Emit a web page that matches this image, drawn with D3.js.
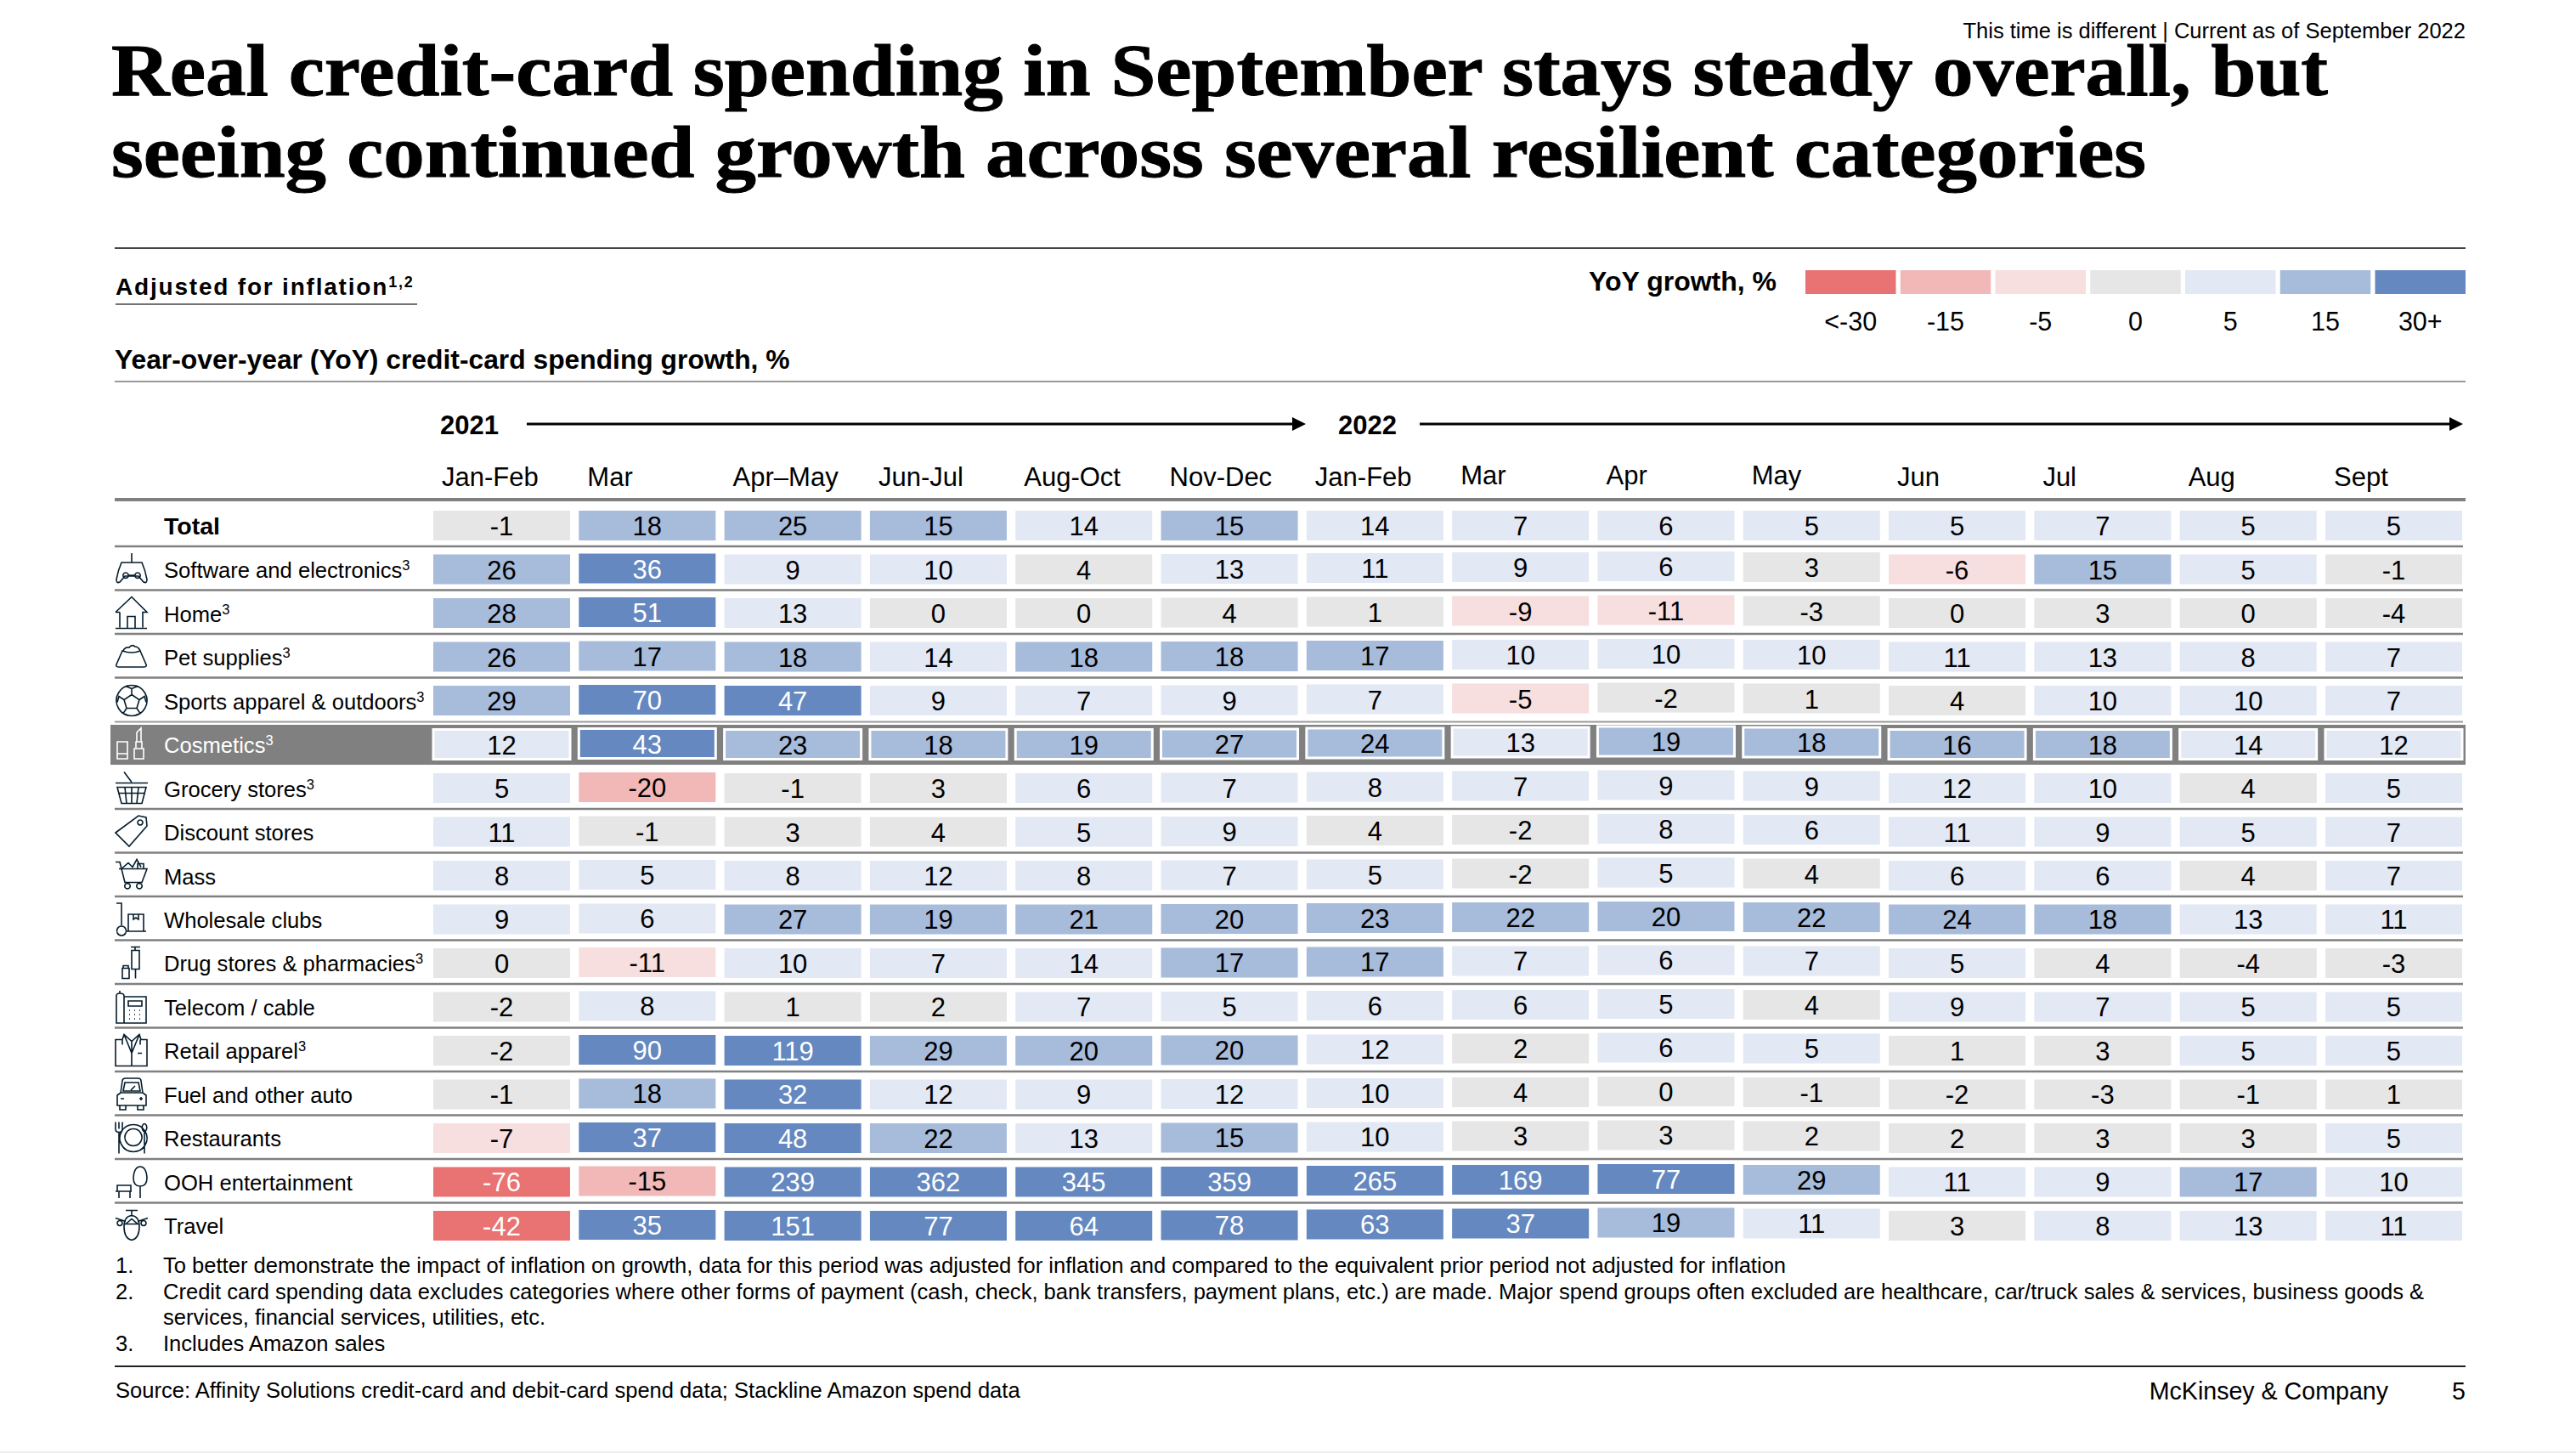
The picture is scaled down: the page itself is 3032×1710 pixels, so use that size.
<!DOCTYPE html>
<html><head><meta charset="utf-8">
<script src="https://cdnjs.cloudflare.com/ajax/libs/d3/7.8.5/d3.min.js"></script>
<style>
html,body{margin:0;padding:0;background:#fff;}
svg{display:block;}
text{font-family:"Liberation Sans",Arial,sans-serif;fill:#000;}
</style></head><body>
<script>
const periods=["Jan-Feb","Mar","Apr–May","Jun-Jul","Aug-Oct","Nov-Dec","Jan-Feb ","Mar ","Apr","May","Jun","Jul","Aug","Sept"];
const categories=["Total","Software and electronics","Home","Pet supplies","Sports apparel & outdoors","Cosmetics","Grocery stores","Discount stores","Mass","Wholesale clubs","Drug stores & pharmacies","Telecom / cable","Retail apparel","Fuel and other auto","Restaurants","OOH entertainment","Travel"];
const footnoted=["Software and electronics","Home","Pet supplies","Sports apparel & outdoors","Cosmetics","Grocery stores","Drug stores & pharmacies","Retail apparel"];
const total=[-1,18,25,15,14,15,14,7,6,5,5,7,5,5];
const software=[26,36,9,10,4,13,11,9,6,3,-6,15,5,-1];
const home=[28,51,13,0,0,4,1,-9,-11,-3,0,3,0,-4];
const pet=[26,17,18,14,18,18,17,10,10,10,11,13,8,7];
const sports=[29,70,47,9,7,9,7,-5,-2,1,4,10,10,7];
const cosmetics=[12,43,23,18,19,27,24,13,19,18,16,18,14,12];
const grocery=[5,-20,-1,3,6,7,8,7,9,9,12,10,4,5];
const discount=[11,-1,3,4,5,9,4,-2,8,6,11,9,5,7];
const mass=[8,5,8,12,8,7,5,-2,5,4,6,6,4,7];
const wholesale=[9,6,27,19,21,20,23,22,20,22,24,18,13,11];
const drug=[0,-11,10,7,14,17,17,7,6,7,5,4,-4,-3];
const telecom=[-2,8,1,2,7,5,6,6,5,4,9,7,5,5];
const retail=[-2,90,119,29,20,20,12,2,6,5,1,3,5,5];
const fuel=[-1,18,32,12,9,12,10,4,0,-1,-2,-3,-1,1];
const restaurants=[-7,37,48,22,13,15,10,3,3,2,2,3,3,5];
const ooh=[-76,-15,239,362,345,359,265,169,77,29,11,9,17,10];
const travel=[-42,35,151,77,64,78,63,37,19,11,3,8,13,11];
const series=[total,software,home,pet,sports,cosmetics,grocery,discount,mass,wholesale,drug,telecom,retail,fuel,restaurants,ooh,travel];
const legendLabels=["<-30","-15","-5","0","5","15","30+"];
const palette=["#E97272","#F2B8B8","#F7DEDF","#E6E6E6","#E2E8F4","#A7BBDB","#6488BF"];
const thresholds=[-30,-14,-4,5,15,30];
const footnotes=[["1.","To better demonstrate the impact of inflation on growth, data for this period was adjusted for inflation and compared to the equivalent prior period not adjusted for inflation"],
["2.","Credit card spending data excludes categories where other forms of payment (cash, check, bank transfers, payment plans, etc.) are made. Major spend groups often excluded are healthcare, car/truck sales & services, business goods &"],
["","services, financial services, utilities, etc."],
["3.","Includes Amazon sales"]];
// small vertical drift of the source's columns, in px
const colNudge=[0,-1,0,0,0,-.5,-1.5,-2.5,-3.5,-2.5,0,0,0,0];

const W=3032,H=1710,L=135,R=2902;
const svg=d3.select("body").append("svg").attr("width",W).attr("height",H);
const color=d3.scaleThreshold().domain(thresholds).range(palette);
const x=d3.scaleBand().domain(periods).range([510,2898]).paddingInner(0.0601);
const y=d3.scaleBand().domain(categories).range([601,1460]).paddingInner(0.32);
const hline=(y0,x0,x1,c,w)=>svg.append("line").attr("x1",x0).attr("x2",x1).attr("y1",y0).attr("y2",y0).attr("stroke",c).attr("stroke-width",w);
const txt=(s,px,py,size,o={})=>svg.append("text").attr("x",px).attr("y",py).attr("font-size",size).attr("font-weight",o.bold?700:400).attr("text-anchor",o.anchor||"start").attr("letter-spacing",o.ls||null).text(s);

// Title & top
txt("This time is different | Current as of September 2022",R,45,25.5,{anchor:"end"});
[["Real credit-card spending in September stays steady overall, but",112,2609],["seeing continued growth across several resilient categories",208,2395]].forEach(([s,b,len])=>{
  svg.append("text").attr("x",131).attr("y",b).attr("font-size",86).attr("font-weight",700)
   .style("font-family",'"Liberation Serif",serif').attr("stroke","#000").attr("stroke-width",1)
   .attr("textLength",len).attr("lengthAdjust","spacingAndGlyphs").text(s);
});
hline(292,L,R,"#444",2);
// subtitle
const adj=txt("Adjusted for inflation",136,347,28,{bold:true,ls:"1.8px"});
adj.append("tspan").attr("dy",-9).attr("font-size",18).text("1,2");
hline(358,136,491,"#444",1.5);
txt("Year-over-year (YoY) credit-card spending growth, %",135,434,31.8,{bold:true});
hline(449,L,R,"#999",2);

// legend
const lx=d3.scaleBand().domain(legendLabels).range([2125,2902]).paddingInner(0.047);
svg.append("g").selectAll("rect").data(legendLabels).join("rect").attr("x",d=>lx(d)).attr("y",318).attr("width",lx.bandwidth()).attr("height",28).attr("fill",(d,i)=>palette[i]);
svg.append("g").selectAll("text").data(legendLabels).join("text").attr("x",d=>lx(d)+lx.bandwidth()/2).attr("y",389).attr("text-anchor","middle").attr("font-size",30.5).text(d=>d);
txt("YoY growth, %",2091,342,32,{bold:true,anchor:"end"});

// years & arrows
txt("2021",518,511,31,{bold:true});
txt("2022",1575,511,31,{bold:true});
[[620,1537],[1671,2899]].forEach(([a,b])=>{
  hline(499,a,b-10,"#000",3);
  svg.append("path").attr("d",`M${b} 499 L${b-16} 491 V507 Z`).attr("fill","#000");
});

// month axis
const axis=d3.axisTop(x).tickSize(0).tickPadding(0);
const ax=svg.append("g").attr("transform","translate(0,572)").call(axis);
ax.select(".domain").remove();
ax.selectAll(".tick text").attr("text-anchor","start").attr("font-size",31).attr("dy",0).attr("fill","#000")
  .style("font-family",'"Liberation Sans",Arial,sans-serif')
  .attr("x",x.bandwidth()*-0.5+10)
  .attr("y",(d,i)=>i>=7&&i<=9?-2:0)
  .text(d=>d.trim());
hline(588,L,R,"#808080",4);

// row separators
categories.slice(0,-1).forEach(c=>{
  if(c==="Sports apparel & outdoors"||c==="Cosmetics")return;
  hline(y(c)+y.bandwidth()+7,L,2899,"#808080",2.5);
});
hline(y("Sports apparel & outdoors")+y.bandwidth()+7.5,L,2899,"#999",2);

// highlighted band
const hi="Cosmetics";
svg.append("rect").attr("x",130).attr("y",853).attr("width",2772).attr("height",47).attr("fill","#808080");

// cells
const rows=svg.append("g").selectAll("g").data(categories).join("g");
const cellY=(c,i)=>y(c)+(c==="Total"?0:colNudge[i]);
const cells=rows.selectAll("g").data(c=>series[categories.indexOf(c)].map((v,i)=>({c,v,i,p:periods[i]}))).join("g");
cells.append("rect").attr("x",d=>x(d.p)).attr("y",d=>cellY(d.c,d.i)).attr("width",x.bandwidth()).attr("height",y.bandwidth())
  .attr("fill",d=>color(d.v)).attr("stroke",d=>d.c===hi?"#fff":"none").attr("stroke-width",d=>d.c===hi?3:0);
cells.append("text").attr("x",d=>x(d.p)+x.bandwidth()/2).attr("y",d=>cellY(d.c,d.i)+y.bandwidth()/2+11.5)
  .attr("text-anchor","middle").attr("font-size",31)
  .style("fill",d=>(d.v<=-30||d.v>=30)?"#fff":"#000").text(d=>d.v);

// row labels
const labels=svg.append("g").selectAll("text").data(categories).join("text")
  .attr("x",193).attr("y",c=>y(c)+y.bandwidth()/2+10).attr("font-size",c=>c==="Total"?28.5:25.6)
  .attr("font-weight",c=>c==="Total"?700:400).style("fill",c=>c===hi?"#fff":"#000").text(c=>c);
labels.filter(c=>footnoted.includes(c)).append("tspan").attr("dy",-9).attr("font-size",16.5).text("3");

// icons (38x38 local box)
const icons={
"Software and electronics":"M19 0V11M7 11H31Q35 20 37 31Q37 36 33 34L27 27H11L5 34Q1 36 1 31Q3 20 7 11ZM15 26H23M12 23a3.2 3.2 0 1 0 .01 0ZM26 23a3.2 3.2 0 1 0 .01 0Z",
"Home":"M0 18L19 0L37 18H32V36M5 18H0M5 18V36M0 37H37M14 37V23H23V37",
"Pet supplies":"M8 12L1 28Q0 31 4 31H33Q37 31 36 28L29 12Q19 16 8 12ZM9 12Q11 7 16 8Q19 4 23 7Q27 7 29 12",
"Sports apparel & outdoors":"M19 1a18 18 0 1 0 .01 0ZM19 12L28 18L25 28H13L10 18ZM19 12V5L12 2M19 5L26 2M28 18L34 14L36 21M10 18L4 14L2 21M25 28L29 34L24 36M13 28L9 34L14 36",
"Cosmetics":"M22 36V24H33V36ZM24 24V16H31V24M25 16V5L30 0V16M2 36V16H14V36ZM2 30H14",
"Grocery stores":"M10 0L19 12M0 13H38M2 18H36L31 37H7ZM11 18L13 37M19 18V37M27 18L25 37M3 25H35",
"Discount stores":"M0 20L27 0L36 2L37 12L16 36ZM29 5a3 3 0 1 0 .01 0Z",
"Mass":"M0 3H5L11 27H31L37 11H4M14 27V29M28 27V29M14 28a3.2 3.2 0 1 0 .01 0ZM28 28a3.2 3.2 0 1 0 .01 0ZM8 10L15 4L20 9L25 0L30 9M26 11V5H33V11",
"Wholesale clubs":"M1 0H7V26M7 27a5.5 5.5 0 1 0 .01 0ZM13 33H36M15 33V13H33V33M21 13V19L24 17L27 19V13",
"Drug stores & pharmacies":"M18 0H29M23 0V4M19 4H28V26H19ZM23.5 26V37M8 37V25H16V37ZM9 25V22H15V25",
"Telecom / cable":"M5 3V0M1 6Q1 3 5 3Q10 3 10 6V38H1ZM10 7H36V38H10M15 12H31V18H15ZM16 23H17M22 23H23M28 23H29M16 28H17M22 28H23M28 28H29M16 33H17M22 33H23M28 33H29",
"Retail apparel":"M0 6H8L10 0L19 8L28 0L30 6H37V37H0ZM10 0L19 22L28 0M8 12V6M29 6V12M19 8V37M26 22H31",
"Fuel and other auto":"M6 17L8 3Q8 0 12 0H26Q30 0 30 3L32 17M9 15L11 5H27L29 15ZM2 20L6 17H32L36 20V32H2ZM5 32V37H12V32M26 32V37H33V32M6 24H10M28 24H32M30 22V26M18 14L23 9",
"Restaurants":"M0 0V8Q0 12 4 12Q8 12 8 8V0M4 0V8M4 12V37M21 3a16 16 0 1 0 .01 0ZM21 8a10 10 0 1 0 .01 0ZM34 2a2.8 4.5 0 1 0 .01 0ZM34 11V37",
"OOH entertainment":"M29 1Q36 1 37 14Q37 24 29 24Q21 24 21 14Q22 1 29 1ZM29 24V38M0 30H19M2 23H18V30H2ZM4 30V38M17 30V38",
"Travel":"M12 1H26M19 1V7M0 10L12 14M38 10L26 14M19 7Q28 8 28 20Q28 34 19 36Q10 34 10 20Q10 8 19 7ZM12 17L19 11L26 17ZM5 13a3 3 0 1 0 .01 0ZM33 13a3 3 0 1 0 .01 0Z"
};
svg.append("g").selectAll("path").data(Object.keys(icons)).join("path")
  .attr("transform",c=>`translate(136,${y(c)+y.bandwidth()/2-19})`).attr("d",c=>icons[c])
  .attr("fill","none").attr("stroke",c=>c===hi?"#fff":"#051C2C").attr("stroke-width",1.6);

// footnotes
footnotes.forEach(([n,t],i)=>{
  const b=1498+i*30.5;
  if(n)txt(n,136,b,25.55);
  txt(t,192,b,25.55);
});
hline(1608,L,R,"#222",2);
txt("Source: Affinity Solutions credit-card and debit-card spend data; Stackline Amazon spend data",136,1645,25.55);
txt("McKinsey & Company",2811,1647,28.6,{anchor:"end"});
txt("5",R,1647,28.6,{anchor:"end"});
hline(1709,0,W,"#eee",2);
</script>
</body></html>
